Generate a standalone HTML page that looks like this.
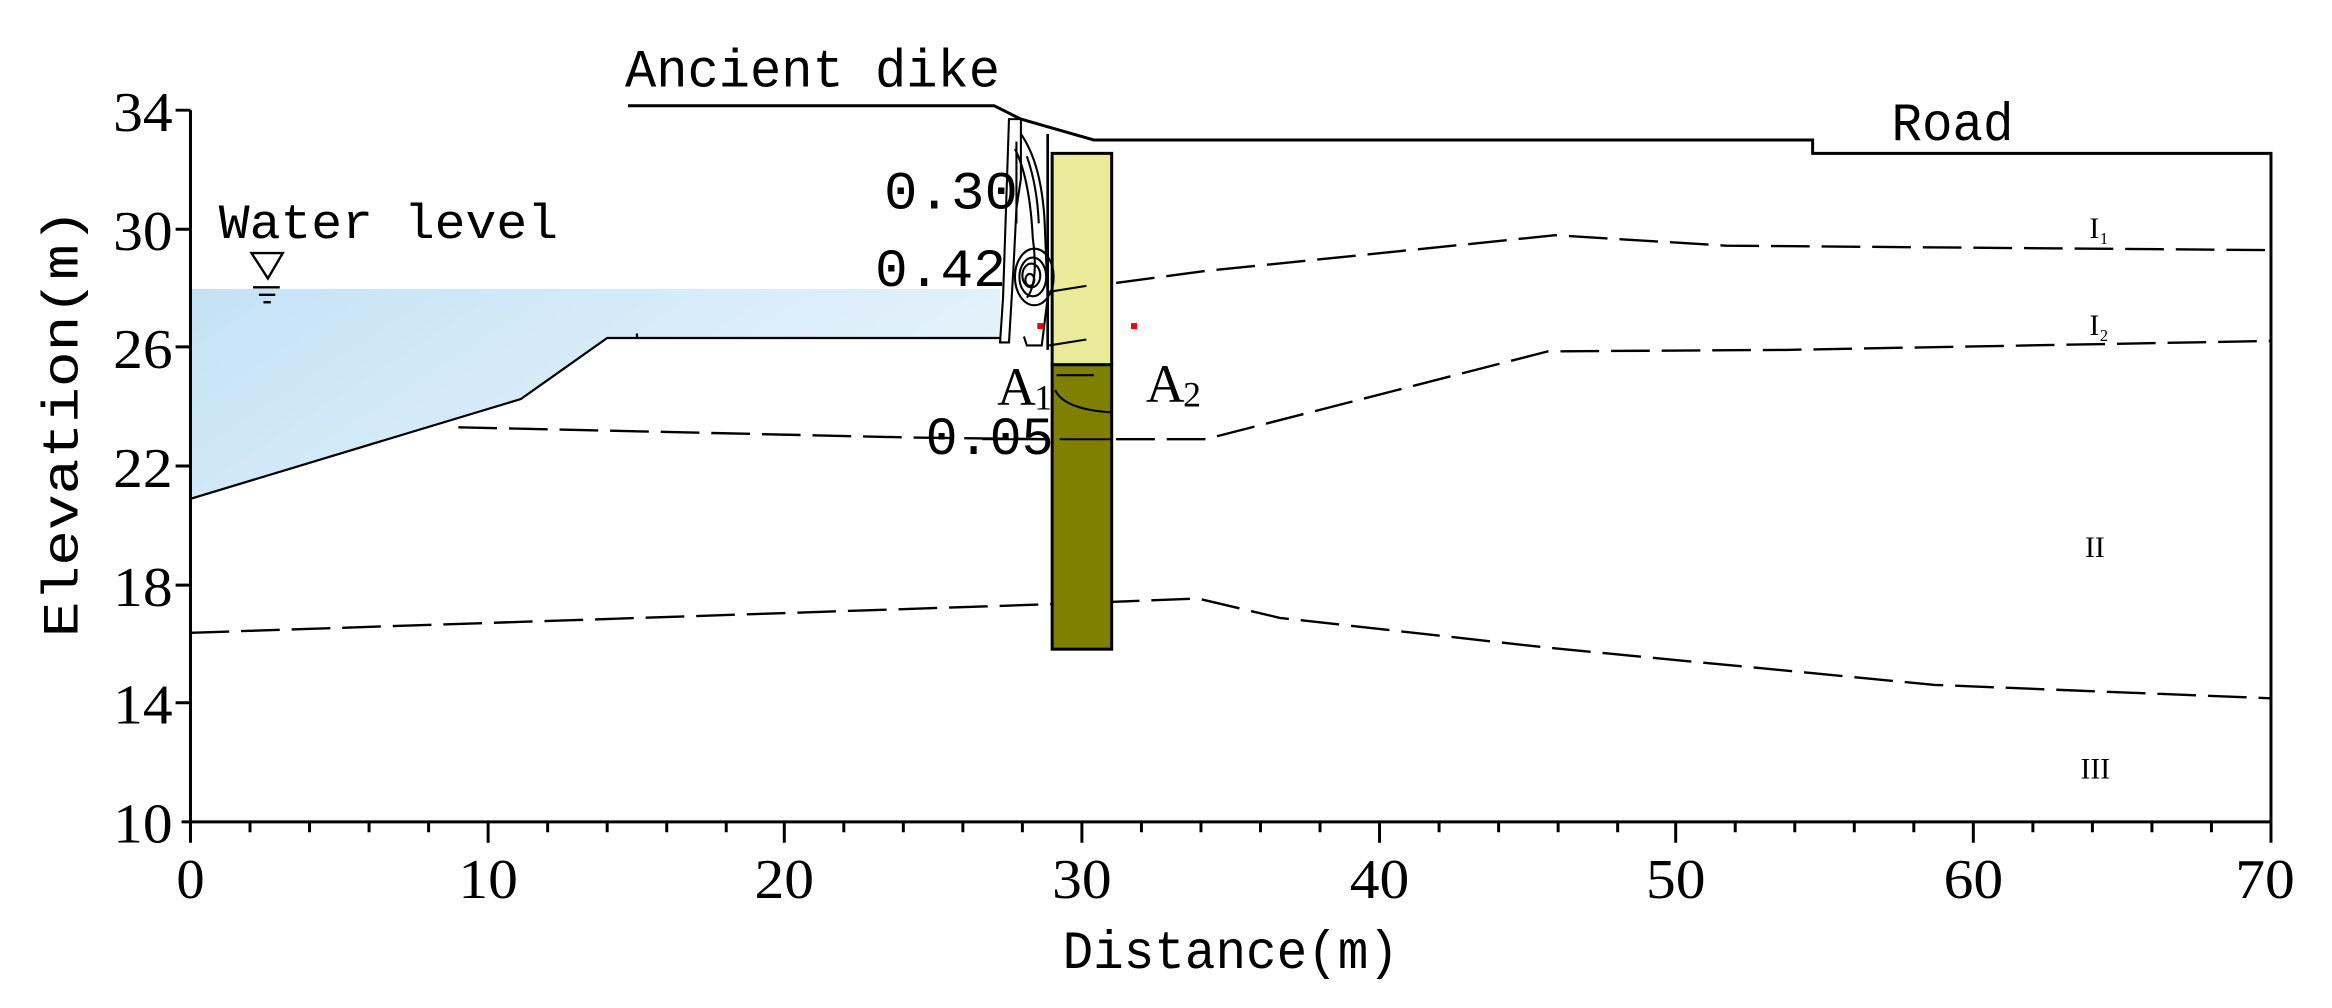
<!DOCTYPE html>
<html><head><meta charset="utf-8"><style>
html,body{margin:0;padding:0;background:#fff;}
svg{display:block;}
text{font-family:"Liberation Serif","Noto Serif CJK SC",serif;fill:#000;}
.m{font-family:"Liberation Mono","Noto Sans CJK SC",monospace;}
</style></head><body>
<svg width="2332" height="1008" viewBox="0 0 1567 677" preserveAspectRatio="none" xmlns="http://www.w3.org/2000/svg">
<defs>
<linearGradient id="wg" x1="0" y1="0" x2="1" y2="0.4">
<stop offset="0" stop-color="#c4e2f5"/><stop offset="1" stop-color="#e6f3fb"/>
</linearGradient>
</defs>
<polygon points="128,194 672,194 672,227 408,227 350,268 128,335" fill="url(#wg)"/>
<polyline points="128,335 350,268 408,227 672,227" fill="none" stroke="#000" stroke-width="1.5"/>
<line x1="428" y1="224" x2="428" y2="227" stroke="#000" stroke-width="1.5"/>
<polyline points="422,71 668,71 686,80 735,94 1218,94 1218,103 1526,103 1526,552" fill="none" stroke="#000" stroke-width="2"/>
<g fill="none" stroke="#000" stroke-width="1.6" stroke-dasharray="26,8">
<polyline points="750,190 810,182 1045,158 1160,165 1526,168"/>
<polyline points="308,287 620,294 705,295"/>
<polyline points="750,295 810,295 1040,236 1200,235 1526,229"/>
<polyline points="128,425 400,416 700,406 805,402 860,415 1040,435 1300,460 1526,469"/>
</g>
<rect x="707" y="103" width="40" height="142" fill="#eaea9a" stroke="#000" stroke-width="2"/>
<rect x="707" y="245" width="40" height="191" fill="#7f7f00" stroke="#000" stroke-width="2"/>
<g fill="none" stroke="#000" stroke-width="1.4">
<line x1="705" y1="196" x2="730" y2="192"/>
<line x1="705" y1="232" x2="730" y2="228"/>
<line x1="710" y1="252" x2="735" y2="252"/>
<line x1="660" y1="295" x2="705" y2="295"/>
<line x1="712" y1="295" x2="746" y2="295"/>
<path d="M709,262 Q715,275 747,277"/>
</g>
<g fill="none" stroke="#000" stroke-width="1.4">
<polygon points="678,80 686,80 686,120 683,140 681,180 678,230 672,230 674,200 676,140" fill="#fff"/>
<path d="M686,90 Q700,110 702,150 L704,200 L700,232 L690,232 L688,226"/>
<path d="M682,100 Q692,120 694,160 Q698,190 690,200"/>
<ellipse cx="693" cy="185" rx="6" ry="8"/>
<ellipse cx="694" cy="186" rx="9" ry="13"/>
<ellipse cx="695" cy="186" rx="13" ry="19"/>
<ellipse cx="692" cy="188" rx="3" ry="4"/>
<path d="M683,95 L683,150"/>
<path d="M690,105 Q697,125 698,150"/>
<line x1="704" y1="90" x2="704" y2="235" stroke-width="1.8"/>
</g>
<rect x="697" y="217" width="4" height="4" fill="#e00"/>
<rect x="760" y="217" width="4" height="4" fill="#e00"/>
<g stroke="#000" stroke-width="2" fill="none">
<line x1="128" y1="74" x2="128" y2="552"/>
<line x1="122" y1="552" x2="1526" y2="552"/>
<path d="M118,74H128M118,154H128M118,233H128M118,313H128M118,393H128M118,472H128"/>
<path d="M128,552V566M328,552V566M527,552V566M727,552V566M927,552V566M1126,552V566M1326,552V566M1526,552V566"/>
<path d="M168,552V559M208,552V559M248,552V559M288,552V559M368,552V559M408,552V559M448,552V559M488,552V559M567,552V559M607,552V559M647,552V559M687,552V559M767,552V559M807,552V559M847,552V559M887,552V559M967,552V559M1007,552V559M1047,552V559M1087,552V559M1166,552V559M1206,552V559M1246,552V559M1286,552V559M1366,552V559M1406,552V559M1446,552V559M1486,552V559"/>
</g>
<g font-size="38" text-anchor="end">
<text x="116" y="88" textLength="40" lengthAdjust="spacingAndGlyphs">34</text>
<text x="116" y="168" textLength="40" lengthAdjust="spacingAndGlyphs">30</text>
<text x="116" y="247" textLength="40" lengthAdjust="spacingAndGlyphs">26</text>
<text x="116" y="327" textLength="40" lengthAdjust="spacingAndGlyphs">22</text>
<text x="116" y="407" textLength="40" lengthAdjust="spacingAndGlyphs">18</text>
<text x="116" y="486" textLength="40" lengthAdjust="spacingAndGlyphs">14</text>
<text x="116" y="566" textLength="40" lengthAdjust="spacingAndGlyphs">10</text>
</g>
<g font-size="38" text-anchor="middle">
<text x="128" y="603">0</text>
<text x="328" y="603" textLength="40" lengthAdjust="spacingAndGlyphs">10</text>
<text x="527" y="603" textLength="40" lengthAdjust="spacingAndGlyphs">20</text>
<text x="727" y="603" textLength="40" lengthAdjust="spacingAndGlyphs">30</text>
<text x="927" y="603" textLength="40" lengthAdjust="spacingAndGlyphs">40</text>
<text x="1126" y="603" textLength="40" lengthAdjust="spacingAndGlyphs">50</text>
<text x="1326" y="603" textLength="40" lengthAdjust="spacingAndGlyphs">60</text>
<text x="1522" y="603" textLength="40" lengthAdjust="spacingAndGlyphs">70</text>
</g>
<text class="m" x="714" y="650" font-size="36" textLength="226" lengthAdjust="spacingAndGlyphs">Distance(m)</text>
<text class="m" transform="translate(52,428) rotate(-90)" font-size="34" textLength="288" lengthAdjust="spacingAndGlyphs">Elevation(m)</text>
<text class="m" x="420" y="58" font-size="36" textLength="252" lengthAdjust="spacingAndGlyphs">Ancient dike</text>
<text class="m" x="1271" y="94" font-size="36" textLength="82" lengthAdjust="spacingAndGlyphs">Road</text>
<text class="m" x="147" y="160" font-size="33" textLength="228" lengthAdjust="spacingAndGlyphs">Water level</text>
<g stroke="#000" stroke-width="1.6" fill="none">
<polygon points="169,170 190,170 180,187"/>
<line x1="170" y1="193" x2="188" y2="193"/>
<line x1="174" y1="198" x2="185" y2="198"/>
<line x1="177" y1="203" x2="182" y2="203"/>
</g>
<text class="m" x="594" y="140" font-size="36" textLength="90" lengthAdjust="spacingAndGlyphs">0.30</text>
<text class="m" x="588" y="192" font-size="36" textLength="88" lengthAdjust="spacingAndGlyphs">0.42</text>
<text class="m" x="622" y="305" font-size="36" textLength="86" lengthAdjust="spacingAndGlyphs">0.05</text>
<text x="670" y="272" font-size="36">A</text><text x="695" y="275" font-size="24">1</text>
<text x="770" y="270" font-size="36">A</text><text x="795" y="273" font-size="24">2</text>
<g font-size="20">
<text x="1404" y="160">I</text><text x="1411" y="164" font-size="11">1</text>
<text x="1404" y="225">I</text><text x="1411" y="229" font-size="11">2</text>
<text x="1401" y="374">II</text>
<text x="1398" y="523">III</text>
</g>
</svg>
</body></html>
